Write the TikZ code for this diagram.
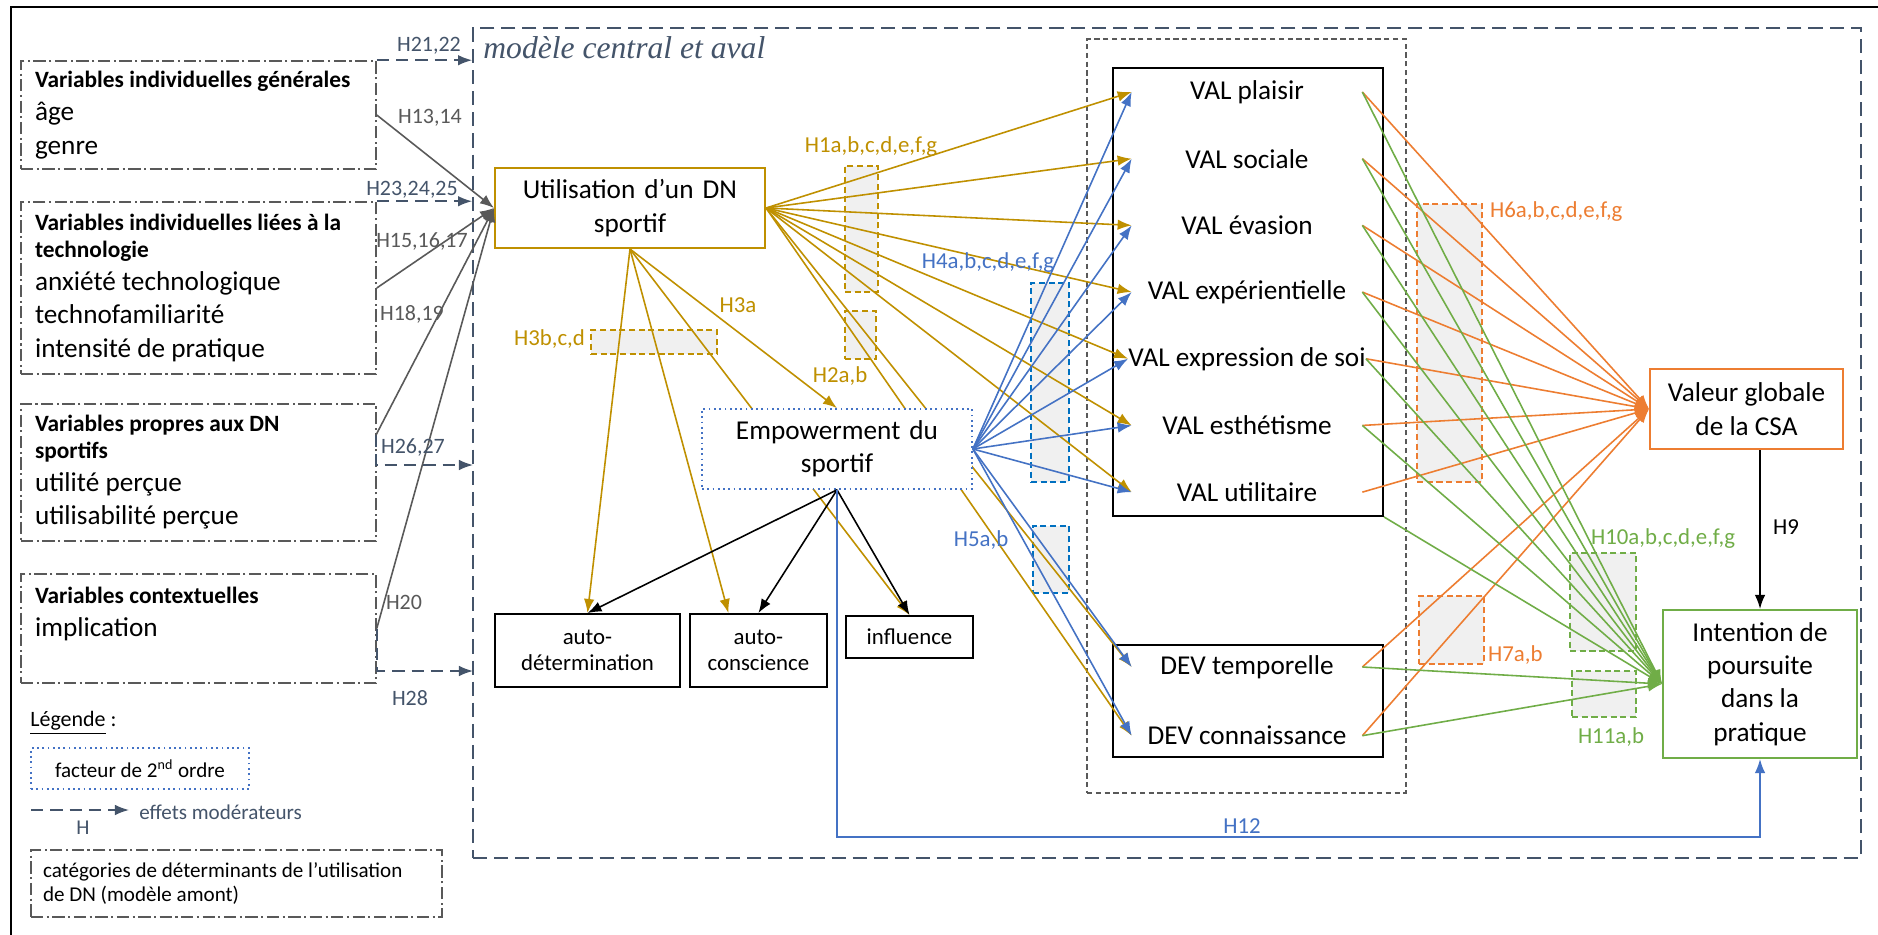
\documentclass[tikz,border=0pt]{standalone}
\usepackage{fontspec}
\setmainfont{Carlito}
\newfontfamily\modelfont{Liberation Serif}
\usetikzlibrary{arrows.meta, positioning, calc}

\definecolor{gold}{RGB}{191,144,0}
\definecolor{empblue}{RGB}{68,114,196}
\definecolor{rectblue}{RGB}{0,112,192}
\definecolor{csaorange}{RGB}{237,125,49}
\definecolor{intgreen}{RGB}{112,173,71}
\definecolor{slate}{RGB}{68,84,106}
\definecolor{midgray}{RGB}{89,89,89}
\definecolor{rectfill}{RGB}{240,240,240}

\newcommand{\bigfont}{\fontsize{15.5}{19}\selectfont}
\newcommand{\hdrfont}{\bfseries\fontsize{13.3}{15}\selectfont}
\newcommand{\hfont}{\fontsize{13}{15}\selectfont}
\newcommand{\legfont}{\fontsize{12}{14}\selectfont}

\tikzset{
    cat_box/.style={rectangle, draw=midgray, line width=0.9pt, dash pattern=on 7pt off 2pt on 1.2pt off 2pt, text width=6.54cm, inner xsep=0.28cm, inner ysep=0pt, align=flush left, font=\bigfont},
    block_gold/.style={rectangle, draw=gold, line width=1.2pt, fill=white, text width=5.2cm, inner xsep=0.1cm, text centered, minimum height=1.6cm, font=\bigfont},
    block_emp/.style={rectangle, draw=empblue, dotted, line width=1pt, fill=white, text width=5.2cm, inner xsep=0.1cm, text centered, minimum height=1.6cm, font=\bigfont},
    block_plain/.style={rectangle, draw, line width=1.1pt, align=center, inner sep=0pt, font=\hfont},
    block_orange/.style={rectangle, draw=csaorange, line width=1.2pt, align=center, minimum width=3.86cm, minimum height=1.6cm, font=\bigfont},
    block_green/.style={rectangle, draw=intgreen, line width=1.2pt, align=center, minimum width=3.88cm, minimum height=2.96cm, font=\bigfont},
    val_item/.style={rectangle, inner sep=0pt, minimum width=4.6cm, minimum height=1.32cm, font=\bigfont},
    hyp_rect/.style={rectangle, fill=rectfill, line width=0.9pt, dash pattern=on 3.5pt off 2pt, inner sep=0pt},
    h_label/.style={inner sep=1pt, font=\hfont},
    arrow/.style={-{Latex[length=8pt,width=6pt]}, line width=0.9pt},
    moder/.style={arrow, slate, dash pattern=on 7pt off 4pt}
}

\begin{document}
\begin{tikzpicture}[x=0.02cm, y=-0.02cm, node distance=0pt and 0.16cm]
\fill[white] (0,0) rectangle (1878,935);
\useasboundingbox (0,0) rectangle (1878,935);
\draw[line width=1.4pt] (11,935) -- (11,7) -- (1878,7);

\node (central) [draw=slate, line width=1.2pt, dash pattern=on 8pt off 4pt, minimum width=27.76cm, minimum height=16.6cm, inner sep=0pt] at (1167,443) {};
\node (modtitle) [anchor=west, inner sep=0pt, text=slate, font=\modelfont\itshape\fontsize{18}{20}\selectfont] at (483,48) {modèle central et aval};

\node (catgen) [cat_box, minimum height=2.16cm] at (198.5,115) {{\hdrfont Variables individuelles générales\par}âge\\genre};
\node (cattech) [cat_box, minimum height=3.44cm] at (198.5,288) {{\hdrfont Variables individuelles liées à la\\technologie\par}anxiété technologique\\technofamiliarité\\intensité de pratique};
\node (catdn) [cat_box, minimum height=2.74cm] at (198.5,472.5) {{\hdrfont Variables propres aux DN\\sportifs\par}utilité perçue\\utilisabilité perçue};
\node (catctx) [cat_box, minimum height=2.18cm] at (198.5,628.5) {{\hdrfont Variables contextuelles\par}implication\\\mbox{}};

\node (legtitle) [anchor=west, inner sep=0pt, font=\fontsize{12.5}{15}\selectfont] at (30,723) {\underline{Légende} :};
\node (legfact) [rectangle, draw=empblue, dotted, line width=1pt, minimum width=4.36cm, minimum height=0.82cm, font=\legfont] at (140,768.5) {facteur de 2\textsuperscript{nd} ordre};
\coordinate (legA) at (31,810);
\coordinate (legB) at (129,810);
\node (legeff) [anchor=west, inner sep=0pt, text=slate, font=\legfont] at (139,812) {effets modérateurs};
\node (legh) [h_label, text=slate, font=\legfont] at (83,828) {H};
\node (legcat) [cat_box, text width=7.74cm, inner xsep=0.24cm, minimum height=1.34cm, font=\legfont] at (236.5,883.5) {catégories de déterminants de l’utilisation\\de DN (modèle amont)};

\node (util) [block_gold] at (630,208) {Utilisation d’un DN\\sportif};
\node (valframe) [draw=midgray, line width=0.9pt, dash pattern=on 3pt off 2pt, minimum width=6.38cm, minimum height=15.08cm, inner sep=0pt] at (1246.5,416) {};
\node (valbox) [block_plain, minimum width=5.4cm, minimum height=8.96cm] at (1248,292) {};
\node (devbox) [block_plain, minimum width=5.4cm, minimum height=2.24cm] at (1248,701) {};
\node (vplaisir) [val_item] at (1247,92) {VAL plaisir};
\node (vsociale) [val_item, below=of vplaisir] {VAL sociale};
\node (vevasion) [val_item, below=of vsociale] {VAL évasion};
\node (vexper) [val_item, below=of vevasion] {VAL expérientielle};
\node (vexpr) [val_item, below=of vexper] {VAL expression de soi};
\node (vesth) [val_item, below=of vexpr] {VAL esthétisme};
\node (vutil) [val_item, below=of vesth] {VAL utilitaire};
\node (dtemp) [val_item, minimum height=1.36cm] at (1247,667) {DEV temporelle};
\node (dconn) [val_item, minimum height=1.36cm, below=of dtemp] {DEV connaissance};
\node (autodet) [block_plain, minimum width=3.7cm, minimum height=1.46cm] at (587.5,650.5) {auto-\\détermination};
\node (autocons) [block_plain, minimum width=2.74cm, minimum height=1.46cm, right=of autodet] {auto-\\conscience};
\node (influ) [block_plain, minimum width=2.54cm, minimum height=0.84cm] at (909.5,637) {influence};
\node (valg) [block_orange] at (1746.5,409) {Valeur globale\\de la CSA};
\node (intent) [block_green] at (1760,684) {Intention de\\poursuite\\dans la\\pratique};

\node (rh1) [hyp_rect, draw=gold, minimum width=0.66cm, minimum height=2.52cm] at (861.5,229) {};
\node (rh2) [hyp_rect, draw=gold, minimum width=0.62cm, minimum height=0.96cm] at (860.5,335) {};
\node (rh3) [hyp_rect, draw=gold, minimum width=2.52cm, minimum height=0.48cm] at (654,342) {};
\node (rh4) [hyp_rect, draw=rectblue, minimum width=0.76cm, minimum height=3.98cm] at (1050,382.5) {};
\node (rh5) [hyp_rect, draw=rectblue, minimum width=0.72cm, minimum height=1.34cm] at (1051,559.5) {};
\node (rh6) [hyp_rect, draw=csaorange, minimum width=1.3cm, minimum height=5.56cm] at (1449.5,343) {};
\node (rh7) [hyp_rect, draw=csaorange, minimum width=1.3cm, minimum height=1.36cm] at (1451.5,630) {};
\node (rh10) [hyp_rect, draw=intgreen, minimum width=1.32cm, minimum height=1.96cm] at (1603,602) {};
\node (rh11) [hyp_rect, draw=intgreen, minimum width=1.28cm, minimum height=0.92cm] at (1604,694) {};

\coordinate (dnout) at (376,435);
\coordinate (mod3) at (473,465);
\coordinate (mod4) at (473,671);
\draw [moder] (catgen.north east) -- (catgen.north east -| central.west);
\draw [moder] (cattech.north east) -- (cattech.north east -| central.west);
\draw [moder] (dnout) |- (mod3);
\draw [moder] (catctx.east) |- (mod4);
\draw [moder] (legA) -- (legB);
\draw [arrow, midgray] (catgen.east) -- (util.west);
\draw [arrow, midgray] (cattech.east) -- (util.west);
\draw [arrow, midgray] (dnout) -- (util.west);
\draw [arrow, midgray] (catctx.east) -- (util.west);

\draw [arrow, gold] (util.east) -- (vplaisir.west);
\draw [arrow, gold] (util.east) -- (vsociale.west);
\draw [arrow, gold] (util.east) -- (vevasion.west);
\draw [arrow, gold] (util.east) -- (vexper.west);
\draw [arrow, gold] (util.east) -- (vexpr.west);
\draw [arrow, gold] (util.east) -- (vesth.west);
\draw [arrow, gold] (util.east) -- (vutil.west);
\draw [arrow, gold] (util.east) -- (dtemp.west);
\draw [arrow, gold] (util.east) -- (dconn.west);
\draw [arrow, gold] (util.south) -- (autodet.north);
\draw [arrow, gold] (util.south) -- ([xshift=-0.6cm]autocons.north);
\draw [arrow, gold] (util.south) -- (influ.north);

\node (emp) [block_emp] at (837,449) {Empowerment du\\sportif};
\draw [arrow, gold] (util.south) -- (emp.north);

\draw [arrow, empblue] (emp.east) -- (vplaisir.west);
\draw [arrow, empblue] (emp.east) -- (vsociale.west);
\draw [arrow, empblue] (emp.east) -- (vevasion.west);
\draw [arrow, empblue] (emp.east) -- (vexper.west);
\draw [arrow, empblue] (emp.east) -- (vexpr.west);
\draw [arrow, empblue] (emp.east) -- (vesth.west);
\draw [arrow, empblue] (emp.east) -- (vutil.west);
\draw [arrow, empblue] (emp.east) -- (dtemp.west);
\draw [arrow, empblue] (emp.east) -- (dconn.west);
\draw [arrow] (emp.south) -- (autodet.north);
\draw [arrow] (emp.south) -- (autocons.north);
\draw [arrow] (emp.south) -- (influ.north);
\coordinate (h12turn) at (837,837);
\draw [arrow, empblue] (emp.south) -- (h12turn) -| (intent.south);

\draw [arrow, csaorange] (vplaisir.east) -- (valg.west);
\draw [arrow, csaorange] (vsociale.east) -- (valg.west);
\draw [arrow, csaorange] (vevasion.east) -- (valg.west);
\draw [arrow, csaorange] (vexper.east) -- (valg.west);
\draw [arrow, csaorange] (vexpr.east) -- (valg.west);
\draw [arrow, csaorange] (vesth.east) -- (valg.west);
\draw [arrow, csaorange] (vutil.east) -- (valg.west);
\draw [arrow, csaorange] (dtemp.east) -- (valg.west);
\draw [arrow, csaorange] (dconn.east) -- (valg.west);
\draw [arrow, intgreen] (vplaisir.east) -- (intent.west);
\draw [arrow, intgreen] (vsociale.east) -- (intent.west);
\draw [arrow, intgreen] (vevasion.east) -- (intent.west);
\draw [arrow, intgreen] (vexper.east) -- (intent.west);
\draw [arrow, intgreen] (vexpr.east) -- (intent.west);
\draw [arrow, intgreen] (vesth.east) -- (intent.west);
\draw [arrow, intgreen] (valbox.south east) -- (intent.west);
\draw [arrow, intgreen] (dtemp.east) -- (intent.west);
\draw [arrow, intgreen] (dconn.east) -- (intent.west);
\draw [arrow] (valg.south -| intent.north) -- (intent.north);

\node (h2122) [h_label, text=slate, font=\fontsize{12.5}{15}\selectfont] at (429,46) {H21,22};
\node (h1314) [h_label, text=midgray, font=\fontsize{12.5}{15}\selectfont] at (430,118) {H13,14};
\node (h2325) [h_label, text=slate, font=\fontsize{12.5}{15}\selectfont] at (412,190) {H23,24,25};
\node (h1517) [h_label, text=midgray, font=\fontsize{12.5}{15}\selectfont] at (422,241) {H15,16,17};
\node (h1819) [h_label, text=midgray, font=\fontsize{12.5}{15}\selectfont] at (412,314) {H18,19};
\node (h2627) [h_label, text=slate, font=\fontsize{12.5}{15}\selectfont] at (413,447) {H26,27};
\node (h20) [h_label, text=midgray, font=\fontsize{12.5}{15}\selectfont] at (404,602) {H20};
\node (h28) [h_label, text=slate, font=\fontsize{12.5}{15}\selectfont] at (410,698) {H28};
\node (h1) [h_label, text=gold] at (871,147) {H1a,b,c,d,e,f,g};
\node (h2) [h_label, text=gold] at (840,376) {H2a,b};
\node (h3a) [h_label, text=gold] at (738,305) {H3a};
\node (h3b) [h_label, text=gold, anchor=east] at (587,339) {H3b,c,d};
\node (h4) [h_label, text=empblue] at (988,263) {H4a,b,c,d,e,f,g};
\node (h5) [h_label, text=empblue] at (981,540) {H5a,b};
\node (h6) [h_label, text=csaorange, anchor=west] at (1488,212) {H6a,b,c,d,e,f,g};
\node (h7) [h_label, text=csaorange, anchor=west] at (1486,655) {H7a,b};
\node (h9) [h_label, anchor=west] at (1771,527) {H9};
\node (h10) [h_label, text=intgreen] at (1663,539) {H10a,b,c,d,e,f,g};
\node (h11) [h_label, text=intgreen] at (1611,737) {H11a,b};
\node (h12) [h_label, text=empblue] at (1242,826) {H12};
\end{tikzpicture}
\end{document}
